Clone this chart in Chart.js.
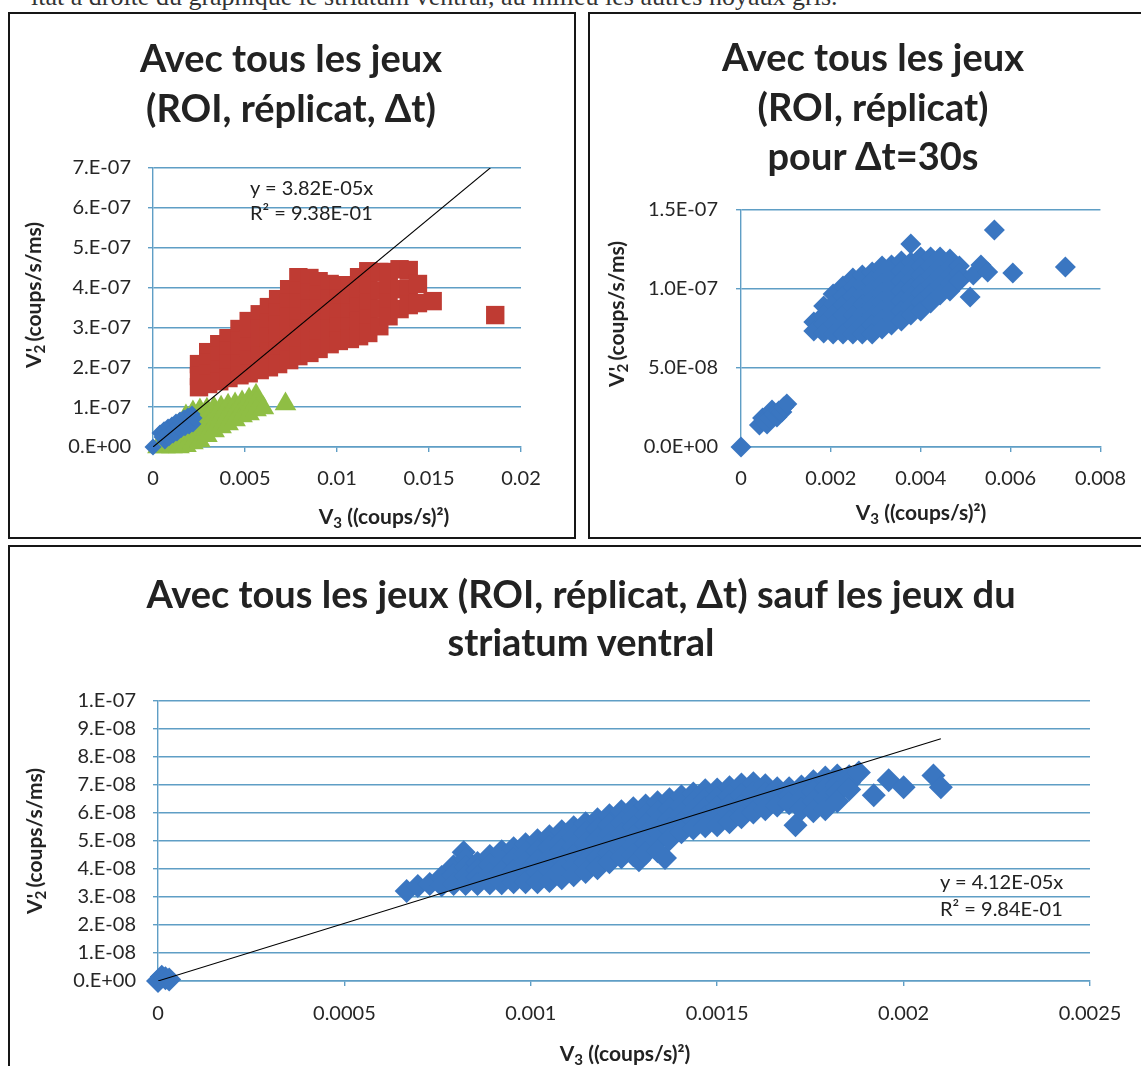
<!DOCTYPE html>
<html lang="fr">
<head>
<meta charset="UTF-8">
<meta name="viewport" content="width=device-width, initial-scale=1.0">
<title>V2' en fonction de V3</title>
<script src="https://cdn.jsdelivr.net/npm/chart.js"></script>
<style>
    body {
        margin: 0;
        width: 1141px;
        height: 1066px;
        position: relative;
        overflow: hidden;
        background: #fff;
        font-family: Lato, 'Open Sans', 'Noto Sans', sans-serif;
        color: #222;
    }
    .caption {
        position: absolute;
        left: 31px;
        top: -18px;
        font: 26px 'Liberation Serif', serif;
        white-space: nowrap;
        color: #333;
    }
    .panel {
        position: absolute;
        box-sizing: border-box;
        border: 2px solid #161616;
        background: #fff;
    }
    canvas { position: absolute; }
    .title {
        position: absolute;
        transform: translateX(-50%);
        text-align: center;
        white-space: nowrap;
        font-weight: bold;
        font-size: 38px;
    }
    .axis-title {
        position: absolute;
        white-space: nowrap;
        font-weight: bold;
        font-size: 21px;
        line-height: 24px;
    }
    .axis-title.x { transform: translate(-50%, -50%); }
    .axis-title.y { transform: translate(-50%, -50%) rotate(-90deg); }
    .axis-title sub { font-size: 0.72em; vertical-align: -0.25em; line-height: 0; }
    .axis-title .pr { margin-left: -0.36em; margin-right: 0.05em; }
    .eq {
        position: absolute;
        font-size: 20px;
        white-space: nowrap;
        color: #222;
    }
</style>
</head>
<body>
    <div class="caption">itat à droite du graphique le striatum ventral, au milieu les autres noyaux gris.</div>

    <div class="panel" style="left:8px; top:12px; width:568px; height:527px;"></div>
    <div class="panel" style="left:588px; top:12px; width:600px; height:527px;"></div>
    <div class="panel" style="left:8px; top:545px; width:1200px; height:600px;"></div>

    <canvas id="chartAll" width="563" height="522" style="left:10px; top:14px;"></canvas>
    <canvas id="chart30s" width="551" height="522" style="left:590px; top:14px;"></canvas>
    <canvas id="chartNoVS" width="1131" height="519" style="left:10px; top:547px;"></canvas>

    <div class="title" style="left:291px; top:32px; line-height:50px;">Avec tous les jeux<br>(ROI, réplicat, Δt)</div>
    <div class="title" style="left:873px; top:32px; line-height:49.5px;">Avec tous les jeux<br>(ROI, réplicat)<br>pour Δt=30s</div>
    <div class="title" style="left:581px; top:569px; line-height:48px;">Avec tous les jeux (ROI, réplicat, Δt) sauf les jeux du<br>striatum ventral</div>

    <div class="axis-title x" style="left:384px; top:516px;">V<sub>3</sub> ((coups/s)²)</div>
    <div class="axis-title y" style="left:33px; top:295px;">V<sub>2</sub><span class="pr">'</span> (coups/s/ms)</div>
    <div class="axis-title x" style="left:921px; top:512px;">V<sub>3</sub> ((coups/s)²)</div>
    <div class="axis-title y" style="left:616px; top:314px;">V<sub>2</sub><span class="pr">'</span> (coups/s/ms)</div>
    <div class="axis-title x" style="left:625px; top:1053px;">V<sub>3</sub> ((coups/s)²)</div>
    <div class="axis-title y" style="left:34px; top:841px;">V<sub>2</sub><span class="pr">'</span> (coups/s/ms)</div>

    <div class="eq" id="eqAll" style="left:250px; top:175px; line-height:25px;"></div>
    <div class="eq" id="eqNoVS" style="left:940px; top:868px; line-height:27px;"></div>

<script>
    // ---- axes ----
    const xTicksAll = [0, 0.005, 0.01, 0.015, 0.02];
    const xLabelsAll = ['0', '0.005', '0.01', '0.015', '0.02'];
    const yTicksAll = [0, 1e-7, 2e-7, 3e-7, 4e-7, 5e-7, 6e-7, 7e-7];
    const yLabelsAll = ['0.E+00', '1.E-07', '2.E-07', '3.E-07', '4.E-07', '5.E-07', '6.E-07', '7.E-07'];

    const xTicks30s = [0, 0.002, 0.004, 0.006, 0.008];
    const xLabels30s = ['0', '0.002', '0.004', '0.006', '0.008'];
    const yTicks30s = [0, 5e-8, 1e-7, 1.5e-7];
    const yLabels30s = ['0.0E+00', '5.0E-08', '1.0E-07', '1.5E-07'];

    const xTicksNoVS = [0, 0.0005, 0.001, 0.0015, 0.002, 0.0025];
    const xLabelsNoVS = ['0', '0.0005', '0.001', '0.0015', '0.002', '0.0025'];
    const yTicksNoVS = [0, 1e-8, 2e-8, 3e-8, 4e-8, 5e-8, 6e-8, 7e-8, 8e-8, 9e-8, 1e-7];
    const yLabelsNoVS = ['0.E+00', '1.E-08', '2.E-08', '3.E-08', '4.E-08', '5.E-08', '6.E-08', '7.E-08', '8.E-08', '9.E-08', '1.E-07'];

    // ---- trend lines (y = a.x) ----
    const slopeAll = 3.82e-5, r2All = 0.938, xEndAll = 0.0186;
    const slopeNoVS = 4.12e-5, r2NoVS = 0.984, xEndNoVS = 0.0021;

    // ---- points: [V3, [V2' ...]] ----
    const redSquaresAll = [
        [0.0025, [2.08e-7, 1.78e-7, 1.50e-7]],
        [0.0030, [2.38e-7, 2.11e-7, 1.83e-7, 1.58e-7]],
        [0.0036, [2.58e-7, 2.28e-7, 1.95e-7, 1.65e-7]],
        [0.0041, [2.73e-7, 2.41e-7, 2.08e-7, 1.73e-7]],
        [0.0047, [2.96e-7, 2.66e-7, 2.38e-7, 2.08e-7, 1.80e-7]],
        [0.0052, [3.16e-7, 2.83e-7, 2.51e-7, 2.18e-7, 1.85e-7]],
        [0.0058, [3.33e-7, 2.98e-7, 2.63e-7, 2.28e-7, 1.93e-7]],
        [0.0063, [3.51e-7, 3.13e-7, 2.76e-7, 2.38e-7, 2.00e-7]],
        [0.0068, [3.71e-7, 3.38e-7, 3.06e-7, 2.73e-7, 2.41e-7, 2.08e-7]],
        [0.0074, [3.96e-7, 3.61e-7, 3.26e-7, 2.88e-7, 2.53e-7, 2.18e-7]],
        [0.0079, [4.26e-7, 3.93e-7, 3.61e-7, 3.28e-7, 2.96e-7, 2.63e-7, 2.28e-7]],
        [0.0085, [4.24e-7, 3.86e-7, 3.48e-7, 3.11e-7, 2.73e-7, 2.36e-7]],
        [0.0090, [4.16e-7, 3.81e-7, 3.46e-7, 3.13e-7, 2.78e-7, 2.46e-7]],
        [0.0096, [4.09e-7, 3.71e-7, 3.33e-7, 2.96e-7, 2.58e-7]],
        [0.0101, [4.06e-7, 3.71e-7, 3.36e-7, 3.01e-7, 2.66e-7]],
        [0.0107, [4.06e-7, 3.71e-7, 3.38e-7, 3.03e-7, 2.71e-7]],
        [0.0112, [4.26e-7, 3.88e-7, 3.53e-7, 3.16e-7, 2.78e-7]],
        [0.0117, [4.41e-7, 4.04e-7, 3.63e-7, 3.23e-7, 2.86e-7]],
        [0.0123, [4.39e-7, 3.93e-7, 3.48e-7, 3.03e-7]],
        [0.0128, [4.39e-7, 4.01e-7, 3.63e-7, 3.28e-7]],
        [0.0134, [4.46e-7, 3.96e-7, 3.46e-7]],
        [0.0139, [4.44e-7, 3.98e-7, 3.56e-7]],
        [0.0144, [4.09e-7, 3.61e-7]],
        [0.0152, [3.66e-7]],
        [0.0186, [3.31e-7]]
    ];

    const greenTrianglesAll = [
        [0.00027, [0]],
        [0.00065, [0.23e-7, 0]],
        [0.00103, [0.35e-7, 0.15e-7, 0]],
        [0.00141, [0.55e-7, 0.35e-7, 0.15e-7, 0]],
        [0.00179, [0.78e-7, 0.58e-7, 0.38e-7, 0.18e-7, 0.03e-7]],
        [0.00217, [0.88e-7, 0.68e-7, 0.48e-7, 0.28e-7, 0.10e-7]],
        [0.00255, [0.93e-7, 0.73e-7, 0.53e-7, 0.33e-7, 0.15e-7]],
        [0.00293, [0.95e-7, 0.73e-7, 0.50e-7, 0.28e-7]],
        [0.00332, [0.98e-7, 0.78e-7, 0.58e-7, 0.40e-7]],
        [0.00370, [1.00e-7, 0.75e-7, 0.50e-7]],
        [0.00408, [1.05e-7, 0.83e-7, 0.58e-7]],
        [0.00446, [1.08e-7, 0.88e-7, 0.68e-7]],
        [0.00484, [1.13e-7, 0.95e-7, 0.78e-7]],
        [0.00522, [1.20e-7, 1.00e-7, 0.83e-7]],
        [0.00560, [1.30e-7, 1.13e-7, 0.93e-7]],
        [0.00600, [0.98e-7]],
        [0.00720, [1.08e-7]]
    ];

    const blueDiamondsAll = [
        [0, [0]],
        [0.00038, [0.35e-7]],
        [0.00049, [0.25e-7]],
        [0.00060, [0.43e-7]],
        [0.00065, [0.15e-7]],
        [0.00071, [0.33e-7]],
        [0.00082, [0.50e-7]],
        [0.00087, [0.23e-7]],
        [0.00092, [0.40e-7]],
        [0.00103, [0.55e-7]],
        [0.00109, [0.30e-7]],
        [0.00114, [0.45e-7]],
        [0.00125, [0.63e-7]],
        [0.00130, [0.35e-7]],
        [0.00136, [0.53e-7]],
        [0.00147, [0.68e-7]],
        [0.00152, [0.43e-7]],
        [0.00158, [0.58e-7]],
        [0.00168, [0.73e-7]],
        [0.00174, [0.48e-7]],
        [0.00179, [0.63e-7]],
        [0.00190, [0.78e-7]],
        [0.00196, [0.53e-7]],
        [0.00201, [0.68e-7]],
        [0.00212, [0.83e-7]],
        [0.00217, [0.58e-7]],
        [0.00223, [0.73e-7]]
    ];

    const blueDiamonds30s = [
        [0, [0]],
        [0.00041, [1.39e-8]],
        [0.00048, [1.84e-8]],
        [0.00052, [1.65e-8]],
        [0.00058, [1.46e-8]],
        [0.00063, [1.84e-8]],
        [0.00069, [2.34e-8]],
        [0.00074, [2.09e-8]],
        [0.00080, [1.90e-8]],
        [0.00084, [2.28e-8]],
        [0.00091, [2.22e-8]],
        [0.00095, [2.53e-8]],
        [0.00102, [2.72e-8]],
        [0.00162, [7.91e-8, 7.34e-8]],
        [0.00184, [8.92e-8, 8.35e-8, 7.78e-8, 7.22e-8]],
        [0.00205, [9.68e-8, 9.05e-8, 8.42e-8, 7.78e-8, 7.15e-8]],
        [0.00227, [10.19e-8, 9.58e-8, 8.97e-8, 8.37e-8, 7.76e-8, 7.15e-8]],
        [0.00249, [10.70e-8, 10.11e-8, 9.52e-8, 8.92e-8, 8.34e-8, 7.74e-8, 7.15e-8]],
        [0.00270, [10.89e-8, 10.27e-8, 9.64e-8, 9.02e-8, 8.40e-8, 7.77e-8, 7.15e-8]],
        [0.00292, [11.08e-8, 10.51e-8, 9.96e-8, 9.39e-8, 8.84e-8, 8.27e-8, 7.72e-8, 7.15e-8]],
        [0.00314, [11.46e-8, 10.89e-8, 10.32e-8, 9.75e-8, 9.18e-8, 8.61e-8, 8.04e-8, 7.47e-8]],
        [0.00335, [11.52e-8, 10.89e-8, 10.25e-8, 9.62e-8, 8.99e-8, 8.35e-8, 7.72e-8]],
        [0.00357, [11.77e-8, 11.14e-8, 10.51e-8, 9.87e-8, 9.24e-8, 8.61e-8, 7.97e-8]],
        [0.00378, [12.85e-8, 11.71e-8, 11.15e-8, 10.59e-8, 10.03e-8, 9.47e-8, 8.91e-8, 8.35e-8]],
        [0.00400, [12.03e-8, 11.46e-8, 10.89e-8, 10.32e-8, 9.75e-8, 9.18e-8, 8.61e-8]],
        [0.00422, [12.03e-8, 11.44e-8, 10.86e-8, 10.28e-8, 9.70e-8, 9.11e-8]],
        [0.00443, [12.03e-8, 11.42e-8, 10.82e-8, 10.22e-8, 9.62e-8]],
        [0.00465, [11.90e-8, 11.39e-8, 10.89e-8, 10.38e-8, 9.87e-8]],
        [0.00486, [11.46e-8, 10.98e-8, 10.51e-8]],
        [0.00510, [9.49e-8]],
        [0.00517, [10.89e-8]],
        [0.00534, [11.52e-8]],
        [0.00549, [11.08e-8]],
        [0.00564, [13.73e-8]],
        [0.00605, [11.01e-8]],
        [0.00722, [11.39e-8]]
    ];

    const blueDiamondsNoVS = [
        [0, [0]],
        [0.00001, [0.15e-8]],
        [0.00002, [0.10e-8]],
        [0.00003, [0.05e-8]],
        [0.000667, [3.21e-8]],
        [0.000697, [3.39e-8]],
        [0.000729, [3.46e-8]],
        [0.000761, [3.71e-8, 3.42e-8]],
        [0.000793, [4.10e-8, 3.78e-8, 3.46e-8]],
        [0.000820, [4.60e-8]],
        [0.000825, [4.35e-8, 4.06e-8, 3.74e-8, 3.46e-8]],
        [0.000857, [4.21e-8, 3.96e-8, 3.71e-8, 3.46e-8]],
        [0.000890, [4.46e-8, 4.14e-8, 3.81e-8, 3.49e-8]],
        [0.000922, [4.63e-8, 4.24e-8, 3.89e-8, 3.49e-8]],
        [0.000954, [4.74e-8, 4.35e-8, 3.92e-8, 3.53e-8]],
        [0.000986, [4.88e-8, 4.55e-8, 4.21e-8, 3.87e-8, 3.53e-8]],
        [0.001018, [5.03e-8, 4.65e-8, 4.28e-8, 3.90e-8, 3.53e-8]],
        [0.001050, [5.17e-8, 4.78e-8, 4.39e-8, 3.96e-8, 3.57e-8]],
        [0.001083, [5.35e-8, 5.01e-8, 4.68e-8, 4.34e-8, 4.01e-8, 3.67e-8]],
        [0.001115, [5.49e-8, 5.15e-8, 4.81e-8, 4.46e-8, 4.12e-8, 3.78e-8]],
        [0.001147, [5.63e-8, 5.28e-8, 4.93e-8, 4.58e-8, 4.24e-8, 3.89e-8]],
        [0.001179, [5.78e-8, 5.43e-8, 5.08e-8, 4.73e-8, 4.38e-8, 4.03e-8]],
        [0.001211, [5.92e-8, 5.58e-8, 5.25e-8, 4.91e-8, 4.58e-8, 4.24e-8]],
        [0.001243, [6.06e-8, 5.65e-8, 5.24e-8, 4.83e-8, 4.42e-8]],
        [0.001275, [6.17e-8, 5.83e-8, 5.50e-8, 5.16e-8, 4.83e-8, 4.49e-8]],
        [0.001290, [4.31e-8]],
        [0.001308, [6.27e-8, 5.93e-8, 5.59e-8, 5.25e-8, 4.91e-8, 4.56e-8]],
        [0.001340, [6.38e-8, 6.03e-8, 5.68e-8, 5.33e-8, 4.98e-8, 4.63e-8]],
        [0.001360, [4.39e-8]],
        [0.001372, [6.49e-8, 6.13e-8, 5.78e-8, 5.42e-8, 5.06e-8]],
        [0.001404, [6.60e-8, 6.27e-8, 5.95e-8, 5.63e-8, 5.31e-8]],
        [0.001436, [6.70e-8, 6.39e-8, 6.08e-8, 5.77e-8, 5.45e-8]],
        [0.001468, [6.81e-8, 6.49e-8, 6.17e-8, 5.85e-8, 5.53e-8]],
        [0.001500, [6.84e-8, 6.52e-8, 6.20e-8, 5.88e-8, 5.56e-8]],
        [0.001533, [6.92e-8, 6.60e-8, 6.29e-8, 5.98e-8, 5.67e-8]],
        [0.001565, [7.02e-8, 6.63e-8, 6.24e-8, 5.85e-8]],
        [0.001597, [7.06e-8, 6.71e-8, 6.38e-8, 6.02e-8]],
        [0.001629, [6.99e-8, 6.70e-8, 6.42e-8, 6.13e-8]],
        [0.001661, [6.88e-8, 6.58e-8, 6.27e-8]],
        [0.001693, [6.88e-8, 6.61e-8, 6.35e-8]],
        [0.001710, [5.56e-8]],
        [0.001726, [6.95e-8, 6.54e-8, 6.13e-8]],
        [0.001758, [7.13e-8, 6.77e-8, 6.42e-8, 6.06e-8]],
        [0.001790, [7.27e-8, 6.89e-8, 6.51e-8, 6.13e-8]],
        [0.001822, [7.34e-8, 7.03e-8, 6.73e-8, 6.42e-8]],
        [0.001854, [7.31e-8, 7.08e-8, 6.84e-8]],
        [0.001880, [7.45e-8]],
        [0.001920, [6.63e-8]],
        [0.001960, [7.17e-8]],
        [0.002000, [6.92e-8]],
        [0.002080, [7.34e-8]],
        [0.002100, [6.92e-8]]
    ];

    // ---- styles ----
    const gridBlue = '#5f9ec5';
    const tickFont = { family: 'Lato', size: 20 };

    function points(list) {
        return list.flatMap(([x, ys]) => ys.map(y => ({ x: x, y: y })));
    }

    // 3.82e-5 -> "3.82E-05"
    function sci(v, digits) {
        const [m, e] = v.toExponential(digits).split('e');
        const n = Math.abs(parseInt(e, 10));
        return m + 'E' + (e[0] === '-' ? '-' : '+') + (n < 10 ? '0' : '') + n;
    }

    function markers(list, style, radius, color, order) {
        return {
            type: 'scatter',
            data: points(list),
            pointStyle: style,
            pointRadius: radius,
            pointHoverRadius: radius,
            backgroundColor: color,
            borderWidth: 0,
            order: order,
            clip: false
        };
    }

    function trend(slope, xEnd) {
        return {
            type: 'line',
            data: [{ x: 0, y: 0 }, { x: xEnd, y: slope * xEnd }],
            showLine: true,
            borderColor: '#000',
            borderWidth: 1.1,
            pointRadius: 0,
            order: 0
        };
    }

    function drawChart(id, datasets, ax) {
        new Chart(document.getElementById(id), {
            type: 'scatter',
            data: { datasets: datasets },
            options: {
                responsive: false,
                animation: false,
                events: [],
                layout: { padding: { top: ax.top, right: ax.right, bottom: 0, left: 0 } },
                plugins: { legend: { display: false }, tooltip: { enabled: false } },
                scales: {
                    x: {
                        type: 'linear',
                        min: ax.xTicks[0],
                        max: ax.xTicks[ax.xTicks.length - 1],
                        afterBuildTicks: s => { s.ticks = ax.xTicks.map(v => ({ value: v })); },
                        afterFit: s => { s.height = ax.xHeight; },
                        ticks: {
                            callback: (v, i) => ax.xLabels[i],
                            font: tickFont,
                            color: '#262626',
                            padding: ax.xPad,
                            maxRotation: 0,
                            autoSkip: false
                        },
                        grid: { drawOnChartArea: false, drawTicks: true, tickLength: 5, color: gridBlue, lineWidth: 1.4 },
                        border: { display: true, color: gridBlue, width: 1.4 }
                    },
                    y: {
                        type: 'linear',
                        min: ax.yTicks[0],
                        max: ax.yTicks[ax.yTicks.length - 1],
                        afterBuildTicks: s => { s.ticks = ax.yTicks.map(v => ({ value: v })); },
                        afterFit: s => { s.width = ax.yWidth; },
                        ticks: {
                            callback: (v, i) => ax.yLabels[i],
                            font: tickFont,
                            color: '#262626',
                            padding: ax.yPad,
                            autoSkip: false
                        },
                        grid: { drawTicks: true, tickLength: 5, color: gridBlue, lineWidth: 1.4 },
                        border: { display: true, color: gridBlue, width: 1.4 }
                    }
                }
            }
        });
    }

    drawChart('chartAll', [
        trend(slopeAll, xEndAll),
        markers(blueDiamondsAll, 'rectRot', 8.5, '#3a76c1', 1),
        markers(greenTrianglesAll, 'triangle', 12.5, '#8fbe44', 2),
        markers(redSquaresAll, 'rect', 13, '#bf3b33', 3)
    ], {
        xTicks: xTicksAll, xLabels: xLabelsAll, yTicks: yTicksAll, yLabels: yLabelsAll,
        top: 154, right: 52, yWidth: 143, xHeight: 89, yPad: 17, xPad: 15
    });

    drawChart('chart30s', [
        markers(blueDiamonds30s, 'rectRot', 10.5, '#3a76c1', 1)
    ], {
        xTicks: xTicks30s, xLabels: xLabels30s, yTicks: yTicks30s, yLabels: yLabels30s,
        top: 196, right: 30, yWidth: 151, xHeight: 89, yPad: 18, xPad: 15
    });

    drawChart('chartNoVS', [
        trend(slopeNoVS, xEndNoVS),
        markers(blueDiamondsNoVS, 'rectRot', 12, '#3a76c1', 1)
    ], {
        xTicks: xTicksNoVS, xLabels: xLabelsNoVS, yTicks: yTicksNoVS, yLabels: yLabelsNoVS,
        top: 154, right: 51, yWidth: 148, xHeight: 85, yPad: 17, xPad: 16
    });

    document.getElementById('eqAll').innerHTML = 'y = ' + sci(slopeAll, 2) + 'x<br>R² = ' + sci(r2All, 2);
    document.getElementById('eqNoVS').innerHTML = 'y = ' + sci(slopeNoVS, 2) + 'x<br>R² = ' + sci(r2NoVS, 2);
</script>
</body>
</html>
